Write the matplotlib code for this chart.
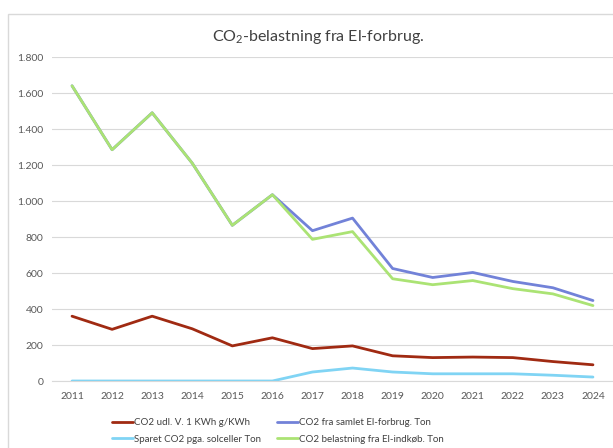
import matplotlib
matplotlib.use("Agg")
import matplotlib.pyplot as plt
from matplotlib.patches import Rectangle

years = ["2011", "2012", "2013", "2014", "2015", "2016", "2017", "2018", "2019", "2020", "2021", "2022", "2023", "2024"]
co2_per_kwh = [360, 287, 360, 290, 195, 240, 180, 195, 140, 130, 133, 130, 108, 90]
co2_total = [1640, 1285, 1490, 1210, 865, 1035, 835, 905, 625, 575, 603, 553, 518, 447]
co2_saved_solar = [0, 0, 0, 0, 0, 0, 50, 72, 50, 40, 40, 40, 32, 22]
co2_purchase = [1640, 1285, 1490, 1210, 865, 1035, 787, 830, 568, 535, 558, 513, 484, 419]

labels = ["CO2 udl. V. 1 KWh g/KWh", "CO2 fra samlet El-forbrug. Ton",
          "Sparet CO2 pga. solceller Ton", "CO2 belastning fra El-indkøb. Ton"]
colors = ["#A02A12", "#7282D8", "#80D4F4", "#ABE374"]

plt.rcParams['font.family'] = ['Lato', 'DejaVu Sans']
plt.rcParams['mathtext.fontset'] = 'custom'
plt.rcParams['mathtext.rm'] = 'Lato'

fig = plt.figure(figsize=(6.13, 4.48), dpi=100)
fig.patch.set_facecolor("white")
fig.add_artist(Rectangle((8/613, -0.1), 1.0, 1 - 14/448 + 0.1, transform=fig.transFigure,
                         fill=False, edgecolor="#D9D9D9", linewidth=1))

ax = fig.add_axes([52/613, 1 - 381/448, 1 - 52/613, (381 - 57)/448])
x = list(range(len(years)))
series = [co2_per_kwh, co2_total, co2_saved_solar, co2_purchase]
handles = []
for i in range(4):
    h, = ax.plot(x, series[i], color=colors[i], linewidth=2.0, label=labels[i],
                 solid_capstyle='round', solid_joinstyle='round')
    handles.append(h)
handles[3].set_zorder(3)
handles[1].set_zorder(2.5)

ax.set_xlim(-0.5, len(years) - 0.5)
ax.set_ylim(0, 1800)
ax.set_yticks(range(0, 1801, 200))
ax.set_yticklabels(["0", "200", "400", "600", "800", "1.000", "1.200", "1.400", "1.600", "1.800"])
ax.set_xticks(x)
ax.set_xticklabels(years)
ax.grid(axis='y', color="#D9D9D9", linewidth=0.8)
ax.set_axisbelow(True)
for s in ["top", "right", "left"]:
    ax.spines[s].set_visible(False)
ax.spines["bottom"].set_color("#D9D9D9")
ax.tick_params(axis='both', length=0, labelsize=7.5, labelcolor="#595959", pad=6)
ax.tick_params(axis='x', pad=8)

fig.text(318/613, 1 - 37/448, "CO$_2$-belastning fra El-forbrug.", ha='center', va='center',
         fontsize=11.5, color="#404040")

# column-first fill: col1 = red, light blue; col2 = blue, green
leg_order = [0, 2, 1, 3]
fig.legend(handles=[handles[i] for i in leg_order], labels=[labels[i] for i in leg_order],
           ncol=2, loc='center', bbox_to_anchor=(278/613, 1 - 431/448),
           frameon=False, fontsize=7, labelcolor="#404040", handlelength=2.2, handletextpad=0.1,
           columnspacing=1.6, labelspacing=0.8)

fig.savefig("out.png", dpi=100)
